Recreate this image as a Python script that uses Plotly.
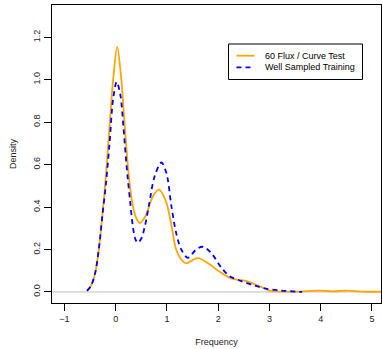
import plotly.graph_objects as go

# Kernel density estimates, sampled along the frequency axis
test_x = [-0.56, -0.48, -0.40, -0.33, -0.26, -0.19, -0.12, -0.05, 0.03, 0.11,
          0.18, 0.245, 0.31, 0.39, 0.47, 0.57, 0.73, 0.847,
          0.99, 1.09, 1.18, 1.28, 1.38, 1.50, 1.61, 1.83, 2.00, 2.25,
          2.54, 2.87, 3.03, 3.30, 3.60, 3.97, 4.25, 4.50, 4.80, 5.18]
test_y = [0.005, 0.03, 0.09, 0.20, 0.36, 0.55, 0.78, 1.00, 1.155, 1.00,
          0.77, 0.575, 0.44, 0.355, 0.325, 0.352, 0.452, 0.482,
          0.42, 0.31, 0.20, 0.153, 0.135, 0.150, 0.159, 0.131, 0.100, 0.064,
          0.052, 0.020, 0.004, 0.002, 0.002, 0.006, 0.003, 0.006, 0.002, 0.001]

train_x = [-0.56, -0.48, -0.40, -0.33, -0.26, -0.19, -0.12, -0.05, 0.02, 0.09,
           0.15, 0.21, 0.28, 0.34, 0.39, 0.43, 0.50, 0.57, 0.65, 0.76, 0.893, 0.99,
           1.09, 1.18, 1.28, 1.41, 1.57, 1.70, 1.86, 2.06, 2.22, 2.45,
           2.70, 2.93, 3.22, 3.64]
train_y = [0.005, 0.03, 0.09, 0.20, 0.36, 0.51, 0.70, 0.91, 0.99, 0.93,
           0.78, 0.60, 0.43, 0.30, 0.245, 0.232, 0.252, 0.31, 0.41, 0.545, 0.61, 0.56,
           0.40, 0.278, 0.20, 0.161, 0.20, 0.213, 0.185, 0.115, 0.075, 0.051,
           0.031, 0.016, 0.007, 0.0]

x_ticks = [-1, 0, 1, 2, 3, 4, 5]
y_ticks = [0.0, 0.2, 0.4, 0.6, 0.8, 1.0, 1.2]
y_tick_text = ["0.0", "0.2", "0.4", "0.6", "0.8", "1.0", "1.2"]

legend_labels = ["60 Flux / Curve Test", "Well Sampled Training"]
ORANGE = "#FFA500"
BLUE = "#0000FF"
FONT = "Liberation Sans, Arial, sans-serif"

fig = go.Figure()
fig.add_trace(go.Scatter(x=test_x, y=test_y, mode="lines",
                         line=dict(color=ORANGE, width=1.8, shape="spline", smoothing=0.9),
                         name=legend_labels[0], showlegend=False))
fig.add_trace(go.Scatter(x=train_x, y=train_y, mode="lines",
                         line=dict(color=BLUE, width=1.8, dash="5px,4px", shape="spline", smoothing=0.9),
                         name=legend_labels[1], showlegend=False))

W, H = 382, 349
ML, MR, MT, MB = 52, 1, 5, 46
PW, PH = W - ML - MR, H - MT - MB


def px(xp):
    return (xp - ML) / PW


def py(yp):
    return (H - MB - yp) / PH


shapes = [
    # horizontal reference line at zero density
    dict(type="line", xref="paper", yref="y", x0=0, x1=1, y0=0, y1=0,
         line=dict(color="#BEBEBE", width=1), layer="below"),
    # legend frame
    dict(type="rect", xref="paper", yref="paper",
         x0=px(228.5), x1=px(362.5), y0=py(79.5), y1=py(44),
         line=dict(color="black", width=1), fillcolor="white"),
    dict(type="line", xref="paper", yref="paper",
         x0=px(236.5), x1=px(254.5), y0=py(55.7), y1=py(55.7),
         line=dict(color=ORANGE, width=1.8)),
    dict(type="line", xref="paper", yref="paper",
         x0=px(236.5), x1=px(254.5), y0=py(67.3), y1=py(67.3),
         line=dict(color=BLUE, width=1.8, dash="5px,4px")),
]

annotations = [
    dict(xref="paper", yref="paper", x=px(262.5), y=py(55.7), text=legend_labels[0],
         showarrow=False, xanchor="left", yanchor="middle",
         font=dict(family=FONT, size=9, color="black")),
    dict(xref="paper", yref="paper", x=px(262.5), y=py(67.3), text=legend_labels[1],
         showarrow=False, xanchor="left", yanchor="middle",
         font=dict(family=FONT, size=9, color="black")),
]

fig.update_layout(
    width=W, height=H,
    margin=dict(l=ML, r=MR, t=MT, b=MB),
    paper_bgcolor="white", plot_bgcolor="white",
    font=dict(family=FONT, size=9, color="#222222"),
    shapes=shapes, annotations=annotations,
    xaxis=dict(range=[-1.243, 5.178], tickvals=x_ticks, ticks="outside", ticklen=7,
               tickcolor="black", showline=True, linecolor="black", linewidth=1,
               mirror=True, showgrid=False, zeroline=False,
               title=dict(text="Frequency", standoff=15, font=dict(size=9))),
    yaxis=dict(range=[-0.052, 1.352], tickvals=y_ticks, ticktext=y_tick_text,
               ticks="outside", ticklen=7, tickangle=-90,
               tickcolor="black", showline=True, linecolor="black", linewidth=1,
               mirror=True, showgrid=False, zeroline=False,
               title=dict(text="Density", standoff=14, font=dict(size=9))),
)

fig.write_html("out.html")
